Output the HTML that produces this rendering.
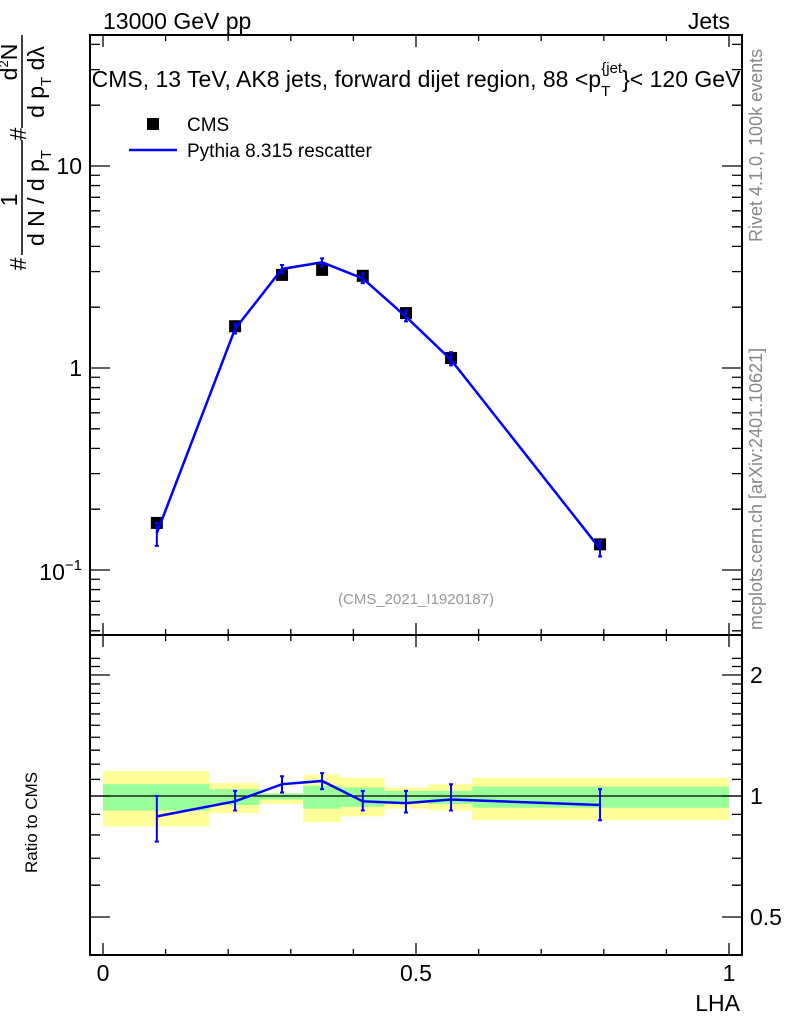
<!DOCTYPE html>
<html><head><meta charset="utf-8"><style>
html,body{margin:0;padding:0;background:#fff}
svg{display:block;font-family:"Liberation Sans",sans-serif}
</style></head><body>
<svg id="chart" width="786" height="1024" viewBox="0 0 786 1024" xmlns="http://www.w3.org/2000/svg">
<g id="bands"></g>
<g id="marks"></g>
<g id="axes"></g>
<text x="103" y="29" font-size="23">13000 GeV pp</text>
<text x="730" y="29" font-size="23" text-anchor="end">Jets</text>
<text x="416" y="87" font-size="23" text-anchor="middle">CMS, 13 TeV, AK8 jets, forward dijet region, 88 &lt;p<tspan font-size="15" dy="9">T</tspan><tspan font-size="15" dy="-23" dx="-9">{jet</tspan><tspan dy="14">}&lt; 120 GeV</tspan></text>
<rect x="147" y="118" width="12" height="12" fill="#000"/>
<text x="187" y="131" font-size="19">CMS</text>
<line x1="129" y1="150" x2="177" y2="150" stroke="#0000ff" stroke-width="2.5"/>
<text x="187" y="157" font-size="19">Pythia 8.315 rescatter</text>
<text x="416" y="604" font-size="15" fill="#999" text-anchor="middle">(CMS_2021_I1920187)</text>
<text transform="translate(762,242) rotate(-90)" font-size="18" fill="#888">Rivet 4.1.0,  100k events</text>
<text transform="translate(762,630) rotate(-90)" font-size="18" fill="#888">mcplots.cern.ch [arXiv:2401.10621]</text>
<text transform="translate(37,873) rotate(-90)" font-size="17">Ratio to CMS</text>
<text x="740" y="1011" font-size="23" text-anchor="end">LHA</text>
<g font-size="23">
<text transform="translate(26,264) rotate(-90)" text-anchor="middle">#</text>
<text transform="translate(17,200) rotate(-90)" text-anchor="middle">1</text>
<line x1="22" y1="255" x2="22" y2="140" stroke="#000" stroke-width="1.5"/>
<text transform="translate(44,198) rotate(-90)" text-anchor="middle">d N / d p<tspan font-size="15" dy="7">T</tspan></text>
<text transform="translate(26,134) rotate(-90)" text-anchor="middle">#</text>
<text transform="translate(17,62) rotate(-90)" text-anchor="middle">d<tspan font-size="13" dy="-9">2</tspan><tspan dy="9">N</tspan></text>
<line x1="22" y1="128" x2="22" y2="35" stroke="#000" stroke-width="1.5"/>
<text transform="translate(44,82) rotate(-90)" text-anchor="middle">d p<tspan font-size="15" dy="7">T</tspan><tspan dy="-7"> dλ</tspan></text>
</g>
</svg>
<script>
const binEdges=[0,0.17,0.25,0.32,0.38,0.45,0.52,0.59,1.0];
const xVals=[0.086,0.211,0.286,0.35,0.415,0.484,0.556,0.794];
const cmsVals=[0.171,1.61,2.89,3.06,2.86,1.87,1.12,0.134];
const ratioVals=[0.89,0.97,1.07,1.09,0.97,0.96,0.98,0.95];
const ratioErrLo=[0.77,0.92,1.02,1.04,0.92,0.91,0.92,0.87];
const ratioErrHi=[1.00,1.03,1.12,1.14,1.03,1.03,1.07,1.04];
const yellowHi=[1.154,1.077,1.01,1.13,1.11,1.05,1.07,1.11];
const yellowLo=[0.84,0.907,0.955,0.86,0.89,0.93,0.92,0.87];
const greenHi=[1.07,1.04,1.015,1.06,1.05,1.03,1.03,1.055];
const greenLo=[0.92,0.95,0.98,0.93,0.94,0.97,0.955,0.935];
const ratioTicks=[0.5,1,2];
const xTickLabels=[0,0.5,1];

const NS="http://www.w3.org/2000/svg";
const X=v=>103+v*626;
const Y=v=>368-202*Math.log10(v);
const R=v=>796-121*Math.log2(v);
function mk(parent,tag,attrs){const e=document.createElementNS(NS,tag);for(const k in attrs)e.setAttribute(k,attrs[k]);document.getElementById(parent).appendChild(e);return e;}

for(let i=0;i<binEdges.length-1;i++){
 let e=mk('bands','rect',{x:X(binEdges[i]),y:R(yellowHi[i]),width:X(binEdges[i+1])-X(binEdges[i]),height:R(yellowLo[i])-R(yellowHi[i]),fill:'#ffff99'});
 
 
 let g=mk('bands','rect',{x:X(binEdges[i]),y:R(greenHi[i]),width:X(binEdges[i+1])-X(binEdges[i]),height:R(greenLo[i])-R(greenHi[i]),fill:'#99ff99'});
 
 
}
let one=mk('bands','line',{x1:90,x2:742,y1:R(1),y2:R(1),stroke:'#000','stroke-width':1.3});



for(let i=0;i<xVals.length;i++){
 let s=mk('marks','rect',{x:X(xVals[i])-6,y:Y(cmsVals[i])-6,width:12,height:12,fill:'#000'});
 
 
}
let mcPts=xVals.map((x,i)=>X(x)+','+Y(cmsVals[i]*ratioVals[i])).join(' ');
let mcl=mk('marks','polyline',{points:mcPts,fill:'none',stroke:'#0000ff','stroke-width':2.5});


let rl=mk('marks','polyline',{points:xVals.map((x,i)=>X(x)+','+R(ratioVals[i])).join(' '),fill:'none',stroke:'#0000ff','stroke-width':2.5});


for(let i=0;i<xVals.length;i++){
 const x=X(xVals[i]);
 const pairs=[[Y(cmsVals[i]*ratioErrLo[i]),Y(cmsVals[i]*ratioErrHi[i])],[R(ratioErrLo[i]),R(ratioErrHi[i])]];
 for(const [a,b] of pairs){
  let e=mk('marks','path',{d:`M${x},${a}V${b}M${x-2},${a}h4M${x-2},${b}h4`,stroke:'#0000ff','stroke-width':2,fill:'none'});
  
  
 }
}

let ax='';
ax+=`<rect x="90" y="35" width="652" height="600" fill="none" stroke="#000" stroke-width="2"/>`;
ax+=`<rect x="90" y="635" width="652" height="320" fill="none" stroke="#000" stroke-width="2"/>`;
for(let v=0;v<=1.0001;v+=0.1){const x=X(v);const big=Math.abs(v*2-Math.round(v*2))<1e-6;const L=big?12:6;
 ax+=`<path d="M${x},35v${L}M${x},635v-${L}M${x},635v${L}M${x},955v-${L}" stroke="#000" stroke-width="1.3"/>`;}
for(let d=-2;d<=1;d++)for(let m=1;m<10;m++){const v=m*Math.pow(10,d);const y=Y(v);if(y<36||y>634)continue;const L=m==1?20:10;
 ax+=`<path d="M90,${y}h${L}M742,${y}h-${L}" stroke="#000" stroke-width="1.3"/>`;}
for(let v=0.5;v<=2.3;v+=0.1){const y=R(v);if(y<637||y>953)continue;const major=ratioTicks.some(t=>Math.abs(t-v)<1e-6);const L=major?20:10;
 ax+=`<path d="M90,${y}h${L}M742,${y}h-${L}" stroke="#000" stroke-width="1.3"/>`;}
document.getElementById('axes').innerHTML=ax;
for(const t of xTickLabels){let e=mk('axes','text',{x:X(t),y:981,'font-size':23,'text-anchor':'middle'});e.textContent=String(t);
 
 }
for(const t of ratioTicks){let e=mk('axes','text',{x:750,y:R(t)+8,'font-size':23});e.textContent=String(t);
 
 }
const yl=[[10,'10'],[1,'1']];
for(const [v,s] of yl){let e=mk('axes','text',{x:82,y:Y(v)+8,'font-size':23,'text-anchor':'end'});e.textContent=s;
 
 }
let e=mk('axes','text',{x:82,y:Y(0.1)+10,'font-size':23,'text-anchor':'end'});
e.innerHTML='10<tspan font-size="15" dy="-10">−1</tspan>';


</script>
</body></html>
